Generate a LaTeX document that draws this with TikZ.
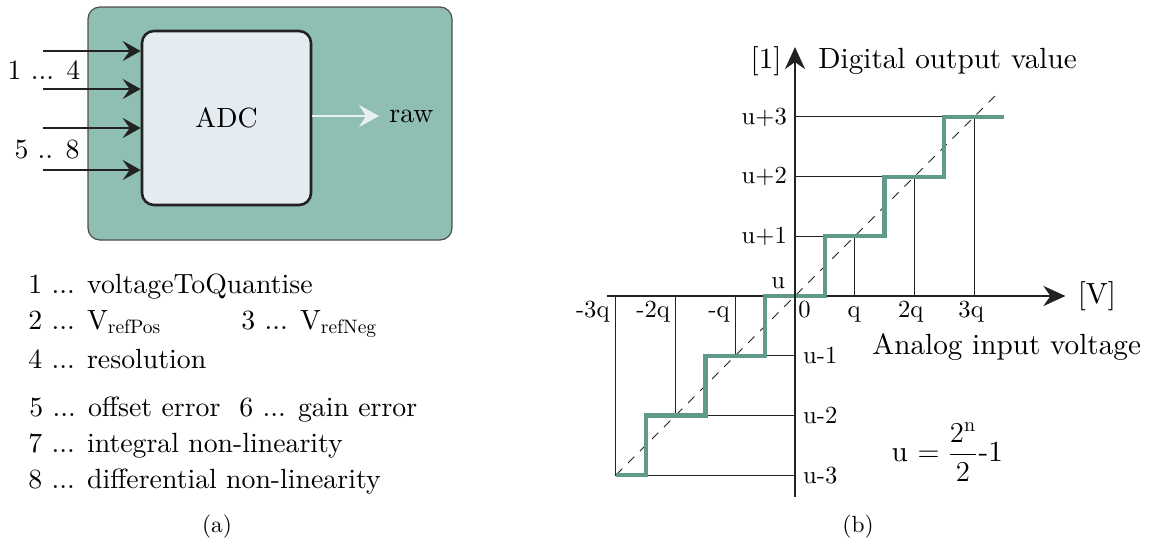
\documentclass[tikz,border=0pt]{standalone}
\usetikzlibrary{arrows.meta}
\DeclareFontFamily{TU}{lmten}{}
\DeclareFontShape{TU}{lmten}{m}{n}{<-> \UnicodeFontFile{lmroman10-regular}{\UnicodeFontTeXLigatures}}{}
\definecolor{outerfill}{RGB}{143,190,179}
\definecolor{innerfill}{RGB}{228,235,241}
\definecolor{stairc}{RGB}{95,154,139}
\definecolor{ink}{RGB}{34,34,34}
\definecolor{rawc}{RGB}{232,240,240}
\tikzset{
  fL/.style={font=\fontfamily{lmten}\fontsize{13.9}{17}\selectfont},
  fR/.style={font=\fontfamily{lmten}\fontsize{14.6}{17}\selectfont},
  fT/.style={font=\fontfamily{lmten}\fontsize{12.3}{15}\selectfont},
  fC/.style={font=\fontfamily{lmten}\fontsize{11.7}{14}\selectfont},
  inarrow/.style={draw=ink, line width=1.2pt, -{Stealth[length=9pt,width=10pt,inset=3.5pt]}},
  rawarrow/.style={draw=rawc, line width=1pt, -{Stealth[length=10pt,width=11pt,inset=3.5pt]}},
  axisline/.style={draw=ink, line width=1.2pt, -{Stealth[length=11pt,width=10pt,inset=3.5pt]}},
  gridline/.style={draw=ink, line width=0.5pt},
  diag/.style={draw=ink, line width=0.45pt, dash pattern=on 4.5pt off 4pt},
  stair/.style={draw=stairc, line width=2.1pt, line join=miter},
  lbl/.style={inner sep=0pt},
}
\begin{document}
\begin{tikzpicture}[x=0.5pt, y=-0.5pt]
\useasboundingbox (0,0) rectangle (1153,547);
% ---------- (a) ----------
\node[draw=ink!80, line width=0.6pt, fill=outerfill, rounded corners=6pt,
      minimum width=182pt, minimum height=116.5pt, inner sep=0pt] (outer) at (270,123.5) {};
\node[draw=ink, line width=1.3pt, fill=innerfill, rounded corners=6pt,
      minimum width=84.5pt, minimum height=87pt, inner sep=0pt, fL] (adc) at (226.5,118) {ADC};
\coordinate (i1) at (43,51);
\coordinate (i2) at (43,89);
\coordinate (i3) at (43,128);
\coordinate (i4) at (43,170);
\foreach \c in {i1,i2,i3,i4} \draw[inarrow] (\c) -- (\c -| adc.west);
\node[lbl, fL] (l14) at (44,70) {1 ... 4};
\node[lbl, fL] (l58) at (47,150) {5 .. 8};
\node[lbl, fL, anchor=west] (raw) at (389,116) {raw};
\draw[rawarrow] (adc.east |- raw) -- ([xshift=-5pt]raw.west);
% list
\node[lbl, fL, anchor=base west] (t1) at (28,293) {1 ... voltageToQuantise};
\node[lbl, fL, anchor=base west] (t2) at (28,329) {2 ... V\textsubscript{refPos}};
\node[lbl, fL, anchor=base west] (t3) at (241,329) {3 ... V\textsubscript{refNeg}};
\node[lbl, fL, anchor=base west] (t4) at (28,368) {4 ... resolution};
\node[lbl, fL, anchor=base west] (t5) at (29,416) {5 ... offset error};
\node[lbl, fL, anchor=base west] (t6) at (239,416) {6 ... gain error};
\node[lbl, fL, anchor=base west] (t7) at (28,452) {7 ... integral non-linearity};
\node[lbl, fL, anchor=base west] (t8) at (28,488) {8 ... differential non-linearity};
\node[lbl, fC] (capa) at (217,527) {(a)};
\node[lbl, fC] (capb) at (858,527) {(b)};
% ---------- (b) ----------
\begin{scope}[shift={(397.5pt,-148pt)}, x=29.85pt, y=29.85pt]
  % grid lines
  \foreach \k in {1,2,3} {
    \draw[gridline] (0,\k) -- (\k,\k) -- (\k,0);
    \draw[gridline] (0,-\k) -- (-\k,-\k) -- (-\k,0);
  }
  % dashed diagonal
  \coordinate (d0) at (-3,-3);
  \coordinate (d1) at (3.37,3.37);
  \draw[diag] (d0) -- (d1);
  % axes
  \coordinate (xs) at (-3.15,0);
  \coordinate (xe) at (4.53,0);
  \coordinate (ys) at (0,-3.37);
  \coordinate (ye) at (0,4.17);
  \draw[axisline] (xs) -- (xe);
  % staircase
  \draw[stair] (-3,-3) -- (-2.5,-3) -- (-2.5,-2) -- (-1.5,-2) -- (-1.5,-1) -- (-0.5,-1)
     -- (-0.5,0) -- (0.5,0) -- (0.5,1) -- (1.5,1) -- (1.5,2) -- (2.5,2) -- (2.5,3) -- (3.5,3);
  \draw[axisline] (ys) -- (ye);
  % axis labels
  \node[lbl, fR, anchor=west] (vlab) at ([xshift=6pt]xe) {[V]};
  \node[lbl, fR, anchor=east] (onelab) at (-0.22,3.93) {[1]};
  \node[lbl, fR, anchor=west] (dov) at (0.385,3.93) {Digital output value};
  \node[lbl, fR, anchor=west] (aiv) at (1.29,-0.86) {Analog input voltage};
  % y tick labels
  \foreach \k in {1,2,3} {
    \node[lbl, fT, anchor=east] (yp\k) at (-0.13,\k) {u+\k};
    \node[lbl, fT, anchor=west] (yn\k) at (0.13,-\k) {u-\k};
  }
  \node[lbl, fT, anchor=base east] (yu) at (-0.16,0.12) {u};
  % x tick labels
  \node[lbl, fT, anchor=base west] (x0) at (0.05,-0.36) {0};
  \node[lbl, fT, anchor=base] (xq1) at (0.99,-0.36) {q};
  \node[lbl, fT, anchor=base] (xq2) at (1.94,-0.36) {2q};
  \node[lbl, fT, anchor=base] (xq3) at (2.95,-0.36) {3q};
  \node[lbl, fT, anchor=base east] (xm1) at (-1.09,-0.36) {-q};
  \node[lbl, fT, anchor=base east] (xm2) at (-2.09,-0.36) {-2q};
  \node[lbl, fT, anchor=base east] (xm3) at (-3.10,-0.36) {-3q};
  % formula
  \node[lbl, fR] (form) at (2.55,-2.62) {u $=\displaystyle\frac{2^{\mathrm{n}}}{2}$-1};
\end{scope}
\end{tikzpicture}
\end{document}
